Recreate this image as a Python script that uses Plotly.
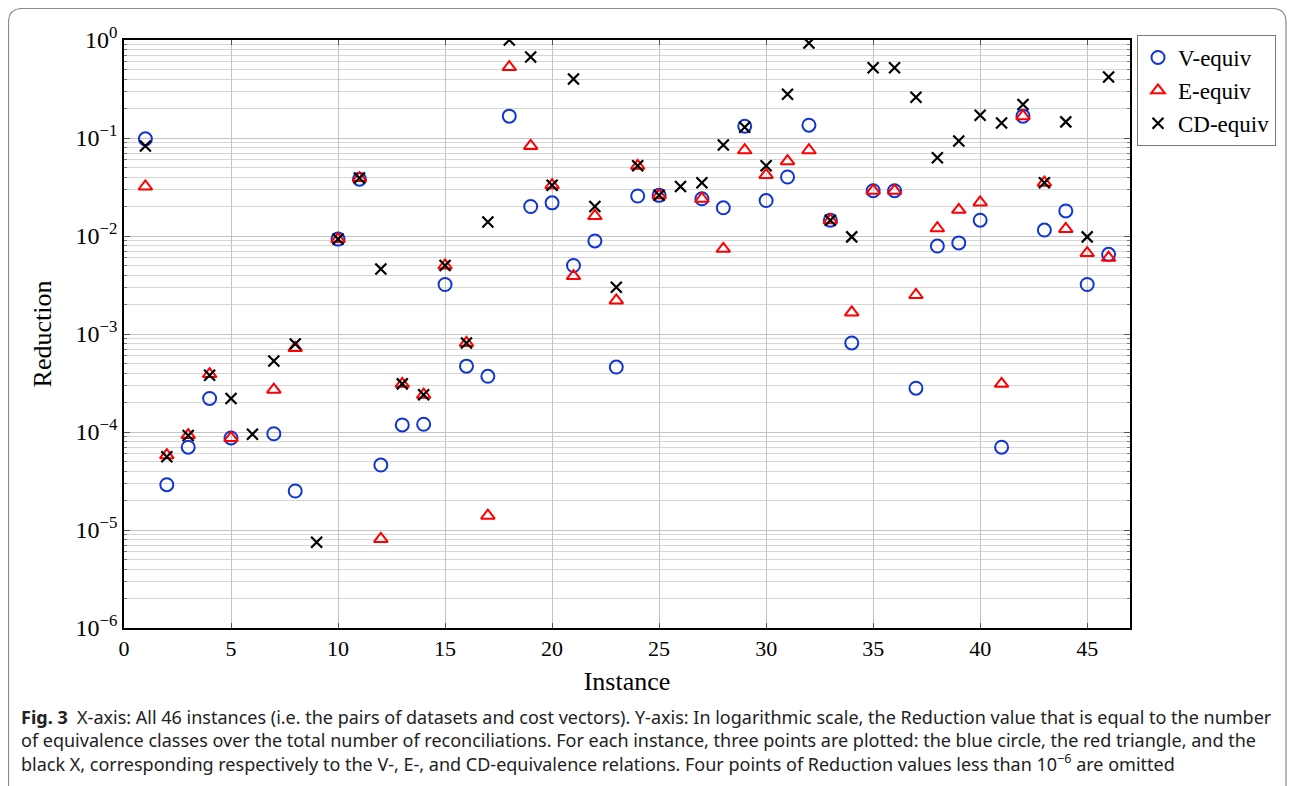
import plotly.graph_objects as go

instances = list(range(1, 47))

v_equiv = [0.098, 2.9e-5, 7.0e-5, 2.2e-4, 8.7e-5, None, 9.6e-5, 2.5e-5, None, 0.0093,
           0.038, 4.6e-5, 1.18e-4, 1.2e-4, 3.2e-3, 4.7e-4, 3.7e-4, 0.167, 0.020, 0.0218,
           5.0e-3, 8.9e-3, 4.6e-4, 0.0256, 0.026, None, 0.024, 0.0194, 0.132, 0.023,
           0.040, 0.135, 0.0145, 8.1e-4, 0.029, 0.029, 2.8e-4, 7.9e-3, 8.5e-3, 0.0145,
           7.0e-5, 0.167, 0.0115, 0.018, 3.2e-3, 6.5e-3]

e_equiv = [0.032, 5.8e-5, 9.3e-5, 3.9e-4, 8.7e-5, None, 2.7e-4, 7.2e-4, None, 0.0093,
           0.039, 8.1e-6, 3.1e-4, 2.4e-4, 5.0e-3, 8.1e-4, 1.4e-5, 0.53, 0.083, 0.033,
           3.9e-3, 0.016, 2.2e-3, 0.052, 0.026, None, 0.024, 7.4e-3, 0.075, 0.042,
           0.058, 0.075, 0.0145, 1.66e-3, 0.029, 0.029, 2.5e-3, 0.012, 0.0185, 0.022,
           3.1e-4, 0.167, 0.035, 0.0118, 6.7e-3, 6.0e-3]

cd_equiv = [0.083, 5.6e-5, 9.2e-5, 3.8e-4, 2.2e-4, 9.5e-5, 5.3e-4, 7.9e-4, 7.5e-6, 0.0093,
            0.039, 4.6e-3, 3.1e-4, 2.4e-4, 5.0e-3, 8.1e-4, 0.0139, 1.0, 0.67, 0.033,
            0.40, 0.020, 3.0e-3, 0.052, 0.026, 0.032, 0.035, 0.085, 0.129, 0.052,
            0.28, 0.93, 0.0145, 9.8e-3, 0.52, 0.52, 0.26, 0.063, 0.093, 0.171,
            0.142, 0.22, 0.035, 0.146, 9.8e-3, 0.42]

x_ticks = [0, 5, 10, 15, 20, 25, 30, 35, 40, 45]
y_ticks = [1e-6, 1e-5, 1e-4, 1e-3, 1e-2, 1e-1, 1e0]
y_tick_text = ["10<sup>\u22126</sup>", "10<sup>\u22125</sup>", "10<sup>\u22124</sup>",
               "10<sup>\u22123</sup>", "10<sup>\u22122</sup>", "10<sup>\u22121</sup>",
               "10<sup>0</sup>"]

# page offset (browser body margin)
OFF = 8
W, H = 1295 - OFF, 786 - OFF
L, R, T, B = 124 - OFF, 1130 - OFF, 40 - OFF, 628 - OFF
pw, ph = R - L, B - T


def px(xp):
    return (xp - OFF - L) / pw


def py(yp):
    return (B - (yp - OFF)) / ph


serif = "Liberation Serif"

fig = go.Figure()
fig.add_trace(go.Scatter(
    x=instances, y=v_equiv, mode="markers", name="V-equiv",
    marker=dict(symbol="circle-open", size=13, color="#1035d0",
                line=dict(width=2, color="#1035d0")),
))
fig.add_trace(go.Scatter(
    x=instances, y=e_equiv, mode="markers", name="E-equiv",
    marker=dict(symbol="triangle-up-open", size=12, color="#ff0000",
                line=dict(width=2, color="#ff0000")),
))
fig.add_trace(go.Scatter(
    x=instances, y=cd_equiv, mode="markers", name="CD-equiv",
    marker=dict(symbol="x-thin-open", size=11, color="#000000",
                line=dict(width=2.2, color="#000000")),
))

# Frame around figure + caption
x0, y0, x1, y1 = px(8.5), py(8.5), px(1286), py(830)
r, ry = 14 / pw, 14 / ph
path = (f"M {x0 + r},{y0} L {x1 - r},{y0} Q {x1},{y0} {x1},{y0 - ry} "
        f"L {x1},{y1 + ry} Q {x1},{y1} {x1 - r},{y1} L {x0 + r},{y1} "
        f"Q {x0},{y1} {x0},{y1 + ry} L {x0},{y0 - ry} Q {x0},{y0} {x0 + r},{y0} Z")
fig.add_shape(type="path", path=path, xref="paper", yref="paper",
              line=dict(color="#8a8a8a", width=1.2), layer="below")

caption = ("<b>Fig. 3</b>  X-axis: All 46 instances (i.e. the pairs of datasets and cost vectors). "
           "Y-axis: In logarithmic scale, the Reduction value that is equal to the number<br>"
           "of equivalence classes over the total number of reconciliations. For each instance, "
           "three points are plotted: the blue circle, the red triangle, and the<br>"
           "black X, corresponding respectively to the V-, E-, and CD-equivalence relations. "
           "Four points of Reduction values less than 10<sup>\u22126</sup> are omitted")
fig.add_annotation(text=caption, xref="paper", yref="paper", x=px(19), y=py(703),
                   xanchor="left", yanchor="top", align="left", showarrow=False,
                   font=dict(family="Noto Sans", size=18, color="#222222"))

fig.update_layout(
    width=W, height=H,
    margin=dict(l=L, r=W - R, t=T, b=H - B),
    paper_bgcolor="white", plot_bgcolor="white",
    showlegend=True,
    legend=dict(x=px(1137), y=py(35), xanchor="left", yanchor="top",
                bordercolor="#777777", borderwidth=1,
                font=dict(family=serif, size=23, color="#000"),
                itemwidth=30, tracegroupgap=0),
    font=dict(family=serif, size=20, color="#000"),
)

fig.update_xaxes(
    range=[0, 47], tickvals=x_ticks, ticktext=[str(t) for t in x_ticks],
    showgrid=True, gridcolor="#c4c4c4", gridwidth=1,
    showline=True, linecolor="#000", linewidth=1.5, mirror="ticks",
    ticks="inside", ticklen=5, tickcolor="#555",
    zeroline=False, tickfont=dict(family=serif, size=22),
    title=dict(text="Instance", font=dict(family=serif, size=26), standoff=12),
)
fig.update_yaxes(
    type="log", range=[-6, 0], tickvals=y_ticks, ticktext=y_tick_text,
    showgrid=True, gridcolor="#c4c4c4", gridwidth=1,
    showline=True, linecolor="#000", linewidth=1.5, mirror="ticks",
    ticks="inside", ticklen=6, tickcolor="#555",
    minor=dict(dtick="D1", showgrid=True, gridcolor="#d6d6d6", gridwidth=1,
               ticks="inside", ticklen=3, tickcolor="#777"),
    zeroline=False, tickfont=dict(family=serif, size=24),
    title=dict(text="Reduction", font=dict(family=serif, size=26), standoff=16),
)

fig.write_html("out.html")
